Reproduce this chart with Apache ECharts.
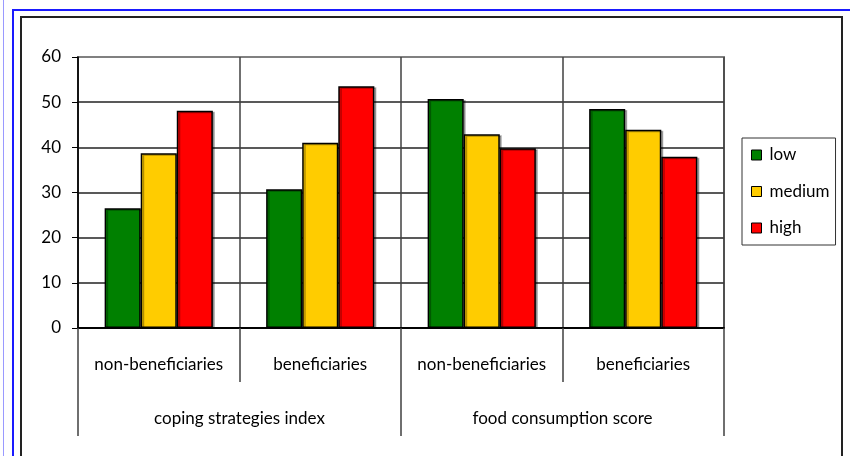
<!DOCTYPE html>
<html>
<head>
<meta charset="utf-8">
<script src="https://cdn.jsdelivr.net/npm/echarts@6/dist/echarts.min.js"></script>
<style>
  html, body { margin: 0; padding: 0; background: #fff; overflow: hidden; }
  .frame { position: absolute; box-sizing: border-box; }
  #thin { left: 3px; top: 0; width: 1px; height: 456px; background: #9a9aff; }
  #blue { left: 12px; top: 9px; width: 860px; height: 480px; border: 2px solid #1a1aff; }
  #black { left: 20px; top: 16px; width: 823px; height: 480px; border: 2px solid #222; }
  #chart { position: absolute; left: 0; top: 0; width: 850px; height: 456px; }
</style>
</head>
<body>
<div class="frame" id="thin"></div>
<div class="frame" id="blue"></div>
<div class="frame" id="black"></div>
<div id="chart"></div>
<script>
const categories = ['non-beneficiaries', 'beneficiaries', 'non-beneficiaries', 'beneficiaries'];
const groups = ['coping strategies index', 'food consumption score'];
const lowValues = [26.5, 30.7, 50.7, 48.5];
const mediumValues = [38.7, 41.0, 42.9, 43.9];
const highValues = [48.1, 53.5, 39.8, 37.9];

const font = 'Lato, "Open Sans", sans-serif';
const chart = echarts.init(document.getElementById('chart'));

function barSeries(name, data, color) {
  return {
    name: name,
    type: 'bar',
    data: data,
    barGap: 0,
    barCategoryGap: '33%',
    itemStyle: {
      color: color,
      borderColor: '#000',
      borderWidth: 1.5,
      shadowColor: 'rgba(0,0,0,0.3)',
      shadowOffsetX: 2,
      shadowOffsetY: 1
    }
  };
}

chart.setOption({
  animation: false,
  textStyle: { fontFamily: font },
  grid: {
    left: 78, right: 126, top: 57, bottom: 128,
    show: true, borderColor: '#808080', borderWidth: 2
  },
  legend: {
    orient: 'vertical',
    left: 742, top: 138,
    padding: [8, 6, 8, 9],
    itemGap: 18.5,
    itemWidth: 10, itemHeight: 10,
    borderColor: '#333', borderWidth: 1,
    icon: 'rect',
    itemStyle: { borderColor: '#000', borderWidth: 1 },
    textStyle: { fontFamily: font, fontSize: 17, lineHeight: 18, color: '#000', padding: [0, 0, 0, 3] },
    data: ['low', 'medium', 'high']
  },
  xAxis: [
    {
      type: 'category',
      data: categories,
      position: 'bottom',
      axisLine: { show: true, lineStyle: { color: '#000', width: 1.5 } },
      axisTick: { show: true, interval: 0, length: 54, lineStyle: { color: '#404040', width: 1.5 } },
      axisLabel: { interval: 0, margin: 28, fontSize: 17, color: '#000', fontFamily: font },
      splitLine: { show: true, interval: 0, lineStyle: { color: '#404040', width: 1.5 } }
    },
    {
      type: 'category',
      data: groups,
      position: 'bottom',
      gridIndex: 0,
      axisLine: { show: true, lineStyle: { color: '#000', width: 1.5 } },
      axisTick: { show: true, interval: 0, length: 108, lineStyle: { color: '#404040', width: 1.5 } },
      axisLabel: { interval: 0, margin: 82, fontSize: 17, color: '#000', fontFamily: font },
      splitLine: { show: false }
    }
  ],
  yAxis: {
    type: 'value',
    min: 0, max: 60, interval: 10,
    axisLine: { show: true, lineStyle: { color: '#000', width: 1.5 } },
    axisTick: { show: true, length: 6, lineStyle: { color: '#000' } },
    axisLabel: { margin: 17, fontSize: 17, color: '#000', fontFamily: font },
    splitLine: { show: true, showMaxLine: false, lineStyle: { color: '#222', width: 1.5 } }
  },
  series: [
    barSeries('low', lowValues, '#008000'),
    barSeries('medium', mediumValues, '#ffcc00'),
    barSeries('high', highValues, '#ff0000')
  ]
});
</script>
</body>
</html>
